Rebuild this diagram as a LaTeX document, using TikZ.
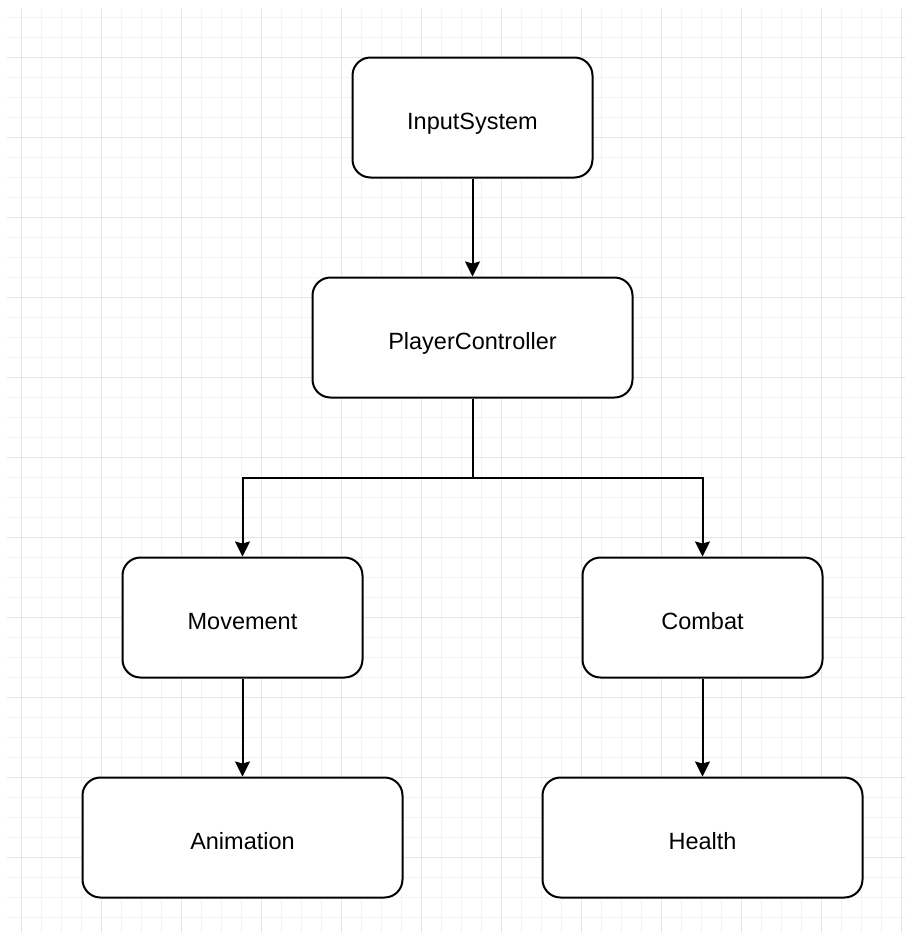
\documentclass[tikz,border=0pt]{standalone}
\usepackage{fontspec}
\setmainfont{Liberation Sans}
\usetikzlibrary{arrows.meta}
\definecolor{gridminor}{HTML}{F3F3F3}
\definecolor{gridmajor}{HTML}{E6E6E6}
\begin{document}
\begin{tikzpicture}[x=1pt,y=-1pt,
  box/.style={draw=black, line width=2pt, rounded corners=18pt, fill=white,
    inner sep=0pt, minimum height=120pt, text height=23pt, text depth=0pt,
    font=\fontsize{23.5}{28}\selectfont},
  narrow/.style={box, minimum width=240pt},
  wide/.style={box, minimum width=320pt},
  link/.style={draw=black, line width=2pt,
    -{Stealth[length=15pt,width=15pt,inset=2pt]}}]
\useasboundingbox[fill=white] (0,0) rectangle (907,935);
% background grid: minor lines every 20, major every 80
\foreach \x in {21.5,41.5,...,903}
  \draw[gridminor, line width=1.2pt] (\x,9) -- (\x,933);
\foreach \y in {17.5,37.5,...,930}
  \draw[gridminor, line width=1.2pt] (7,\y) -- (905,\y);
\foreach \x in {21.5,101.5,...,903}
  \draw[gridmajor, line width=1.4pt] (\x,9) -- (\x,933);
\foreach \y in {57.5,137.5,...,930}
  \draw[gridmajor, line width=1.4pt] (7,\y) -- (905,\y);
% component boxes
\node[narrow] (in)  at (472.5,117.5) {InputSystem};
\node[wide]   (pc)  at (472.5,337.5) {PlayerController};
\node[narrow] (mov) at (242.5,617.5) {Movement};
\node[narrow] (com) at (702.5,617.5) {Combat};
\node[wide]   (ani) at (242.5,837.5) {Animation};
\node[wide]   (hea) at (702.5,837.5) {Health};
% connectors
\coordinate (split) at (472.5,477.5);
\draw[link] (in.south) -- (pc.north);
\draw[link] (pc.south) -- (split) -| (mov.north);
\draw[link] (split) -| (com.north);
\draw[link] (mov.south) -- (ani.north);
\draw[link] (com.south) -- (hea.north);
\end{tikzpicture}
\end{document}
